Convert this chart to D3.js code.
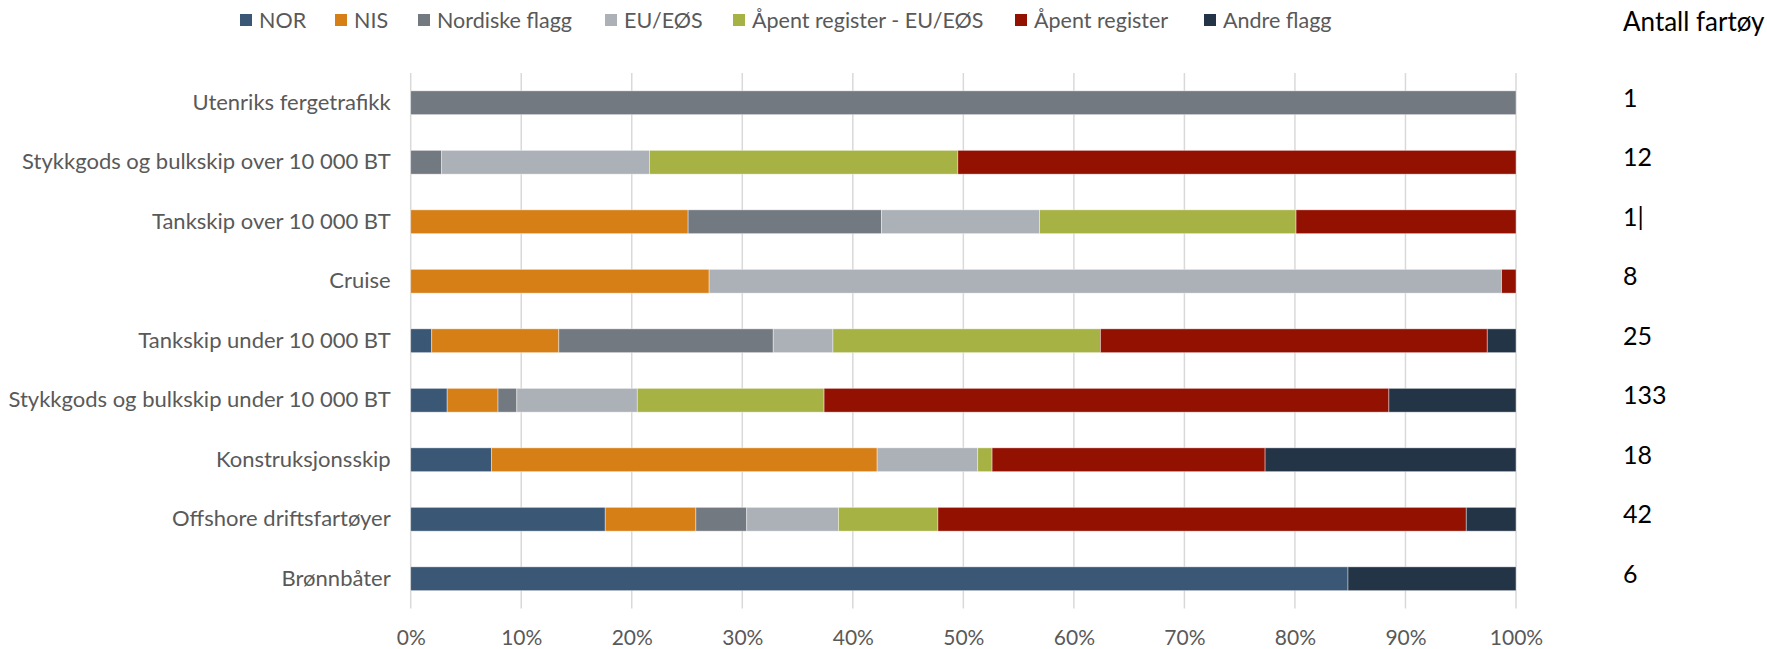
<!DOCTYPE html>
<html>
<head>
<meta charset="utf-8">
<script src="https://cdn.jsdelivr.net/npm/d3@7"></script>
<style>
  body { margin: 0; background: #fff; }
  svg text { font-family: Lato, "Open Sans", sans-serif; }
</style>
</head>
<body>
<div id="root"></div>
<script>
// categories, top to bottom
let categories = ['Utenriks fergetrafikk', 'Stykkgods og bulkskip over 10 000 BT', 'Tankskip over 10 000 BT', 'Cruise',
    'Tankskip under 10 000 BT', 'Stykkgods og bulkskip under 10 000 BT', 'Konstruksjonsskip', 'Offshore driftsfartøyer', 'Brønnbåter'];

let seriesNames = ['NOR', 'NIS', 'Nordiske flagg', 'EU/EØS', 'Åpent register - EU/EØS', 'Åpent register', 'Andre flagg'];
let seriesColors = ['#3a5775', '#d67f17', '#737981', '#abb1b7', '#a7b244', '#931100', '#243447'];

// share in percent, one array per series, same order as categories
let norValues = [0, 0, 0, 0, 1.9, 3.3, 7.3, 17.6, 84.8];
let nisValues = [0, 0, 25.1, 27.0, 11.5, 4.6, 34.9, 8.2, 0];
let nordiskeValues = [100, 2.8, 17.5, 0, 19.4, 1.7, 0, 4.6, 0];
let euValues = [0, 18.8, 14.3, 71.7, 5.4, 10.9, 9.1, 8.3, 0];
let apentEuValues = [0, 27.9, 23.2, 0, 24.2, 16.9, 1.3, 9.0, 0];
let apentValues = [0, 50.5, 19.9, 1.3, 35.0, 51.1, 24.7, 47.8, 0];
let andreValues = [0, 0, 0, 0, 2.6, 11.5, 22.7, 4.5, 15.2];

let vesselCounts = ['1', '12', '1|', '8', '25', '133', '18', '42', '6'];
let xTicks = [0, 0.1, 0.2, 0.3, 0.4, 0.5, 0.6, 0.7, 0.8, 0.9, 1];

let width = 1767,
    height = 649,
    plot = { left: 410.7, right: 1516, top: 73, bottom: 608.5 };

let svg = d3.select('#root')
    .append('svg')
    .attr('width', width)
    .attr('height', height);

let x = d3.scaleLinear().domain([0, 1]).range([plot.left, plot.right]),
    y = d3.scaleBand().domain(categories).range([plot.top, plot.bottom]).paddingInner(0.6).paddingOuter(0.3);

// gridlines
svg.append('g')
    .attr('class', 'grid')
    .selectAll('line')
    .data(xTicks)
    .enter()
    .append('line')
    .attr('x1', (d) => x(d))
    .attr('x2', (d) => x(d))
    .attr('y1', plot.top)
    .attr('y2', plot.bottom)
    .style('stroke', '#d9d9d9')
    .style('stroke-width', 1.5);

// build the stacked table from the series arrays
let valueLists = [norValues, nisValues, nordiskeValues, euValues, apentEuValues, apentValues, andreValues];
let table = categories.map((category, i) => {
    let row = { category };
    seriesNames.forEach((name, s) => { row[name] = valueLists[s][i] / 100; });
    return row;
});

let stacked = d3.stack().keys(seriesNames)(table);

svg.append('g')
    .attr('class', 'bars')
    .selectAll('g')
    .data(stacked)
    .enter()
    .append('g')
    .style('fill', (d, i) => seriesColors[i])
    .selectAll('rect')
    .data((d) => d.filter((p) => p[1] - p[0] > 0))
    .enter()
    .append('rect')
    .attr('x', (d) => x(d[0]))
    .attr('width', (d) => x(d[1]) - x(d[0]))
    .attr('y', (d) => y(d.data.category))
    .attr('height', y.bandwidth())
    .style('stroke', '#fff')
    .style('stroke-opacity', 0.5)
    .style('stroke-width', 0.8);

// x axis labels
let xAxis = svg.append('g')
    .attr('transform', 'translate(0,' + (plot.bottom + 19) + ')')
    .call(d3.axisBottom(x).tickValues(xTicks).tickFormat(d3.format('.0%')).tickSize(0));
xAxis.select('.domain').remove();
xAxis.selectAll('text')
    .style('font-size', '21px')
    .style('fill', '#595959');

// y axis labels
let yAxis = svg.append('g')
    .attr('transform', 'translate(' + (plot.left - 20) + ',0)')
    .call(d3.axisLeft(y).tickSize(0).tickPadding(0));
yAxis.select('.domain').remove();
yAxis.selectAll('text')
    .style('font-size', '22px')
    .style('fill', '#595959');

// legend
let legendX = [240, 335, 418, 605, 733, 1015, 1204];
let legend = svg.append('g')
    .attr('class', 'legend')
    .selectAll('g')
    .data(seriesNames)
    .enter()
    .append('g')
    .attr('transform', (d, i) => 'translate(' + legendX[i] + ',20)');

legend.append('rect')
    .attr('x', 0)
    .attr('y', -6)
    .attr('width', 12)
    .attr('height', 12)
    .style('fill', (d, i) => seriesColors[i]);

legend.append('text')
    .attr('x', 19)
    .attr('y', 0)
    .attr('dy', '0.35em')
    .style('font-size', '21.5px')
    .style('fill', '#595959')
    .text((d) => d);

// vessel count column
svg.append('text')
    .attr('x', 1623)
    .attr('y', 22)
    .attr('dy', '0.35em')
    .style('font-size', '26px')
    .style('fill', '#000')
    .text('Antall fartøy');

svg.append('g')
    .attr('class', 'counts')
    .selectAll('text')
    .data(vesselCounts)
    .enter()
    .append('text')
    .attr('x', 1623)
    .attr('y', (d, i) => y(categories[i]) + y.bandwidth() / 2 - 5)
    .attr('dy', '0.35em')
    .style('font-size', '25px')
    .style('fill', '#000')
    .text((d) => d);
</script>
</body>
</html>
